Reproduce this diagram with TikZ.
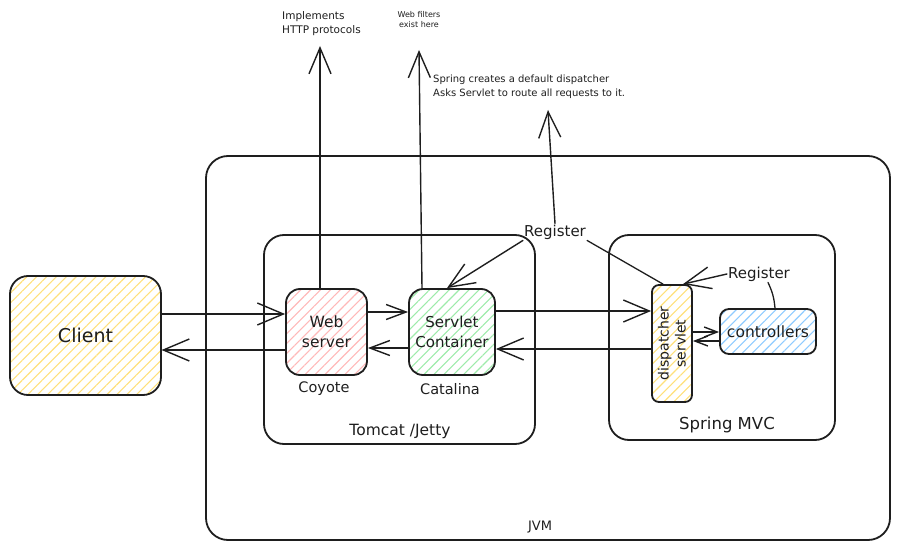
\documentclass[tikz,border=0pt]{standalone}
\usepackage{fontspec}
\setmainfont{DejaVu Sans}
\usetikzlibrary{arrows.meta}
\usetikzlibrary{patterns.meta}

\definecolor{ink}{HTML}{1E1E1E}
\definecolor{hyellow}{HTML}{FFE07A}
\definecolor{hpink}{HTML}{FFB8B8}
\definecolor{hgreen}{HTML}{9EEBAA}
\definecolor{hblue}{HTML}{8FCBFF}

\tikzset{
    box/.style={draw=ink, line width=1.8pt, rounded corners=14pt, inner sep=0pt, align=center, text=ink},
    hatch/.style={pattern={Lines[angle=45,distance=7pt,line width=1.1pt]}, pattern color=#1},
    arr/.style={draw=ink, line width=1.4pt, line cap=round, -{Straight Barb[length=26pt,width=22pt]}},
    marr/.style={draw=ink, line width=1.4pt, line cap=round, -{Straight Barb[length=20pt,width=15pt]}},
    sarr/.style={draw=ink, line width=1.4pt, line cap=round, -{Straight Barb[length=13pt,width=10pt]}},
    link/.style={draw=ink, line width=1.3pt, line cap=round},
    lbl/.style={text=ink, inner sep=1pt},
}

\begin{document}
\begin{tikzpicture}[x=1pt,y=-1pt]
    \useasboundingbox (0,0) rectangle (900,551);

    % containers
    \node[box, rounded corners=22pt, minimum width=684pt, minimum height=384pt] (jvm) at (548,348) {};
    \node[box, rounded corners=20pt, minimum width=271pt, minimum height=209pt] (tomcat) at (399.5,339.5) {};
    \node[box, rounded corners=20pt, minimum width=226pt, minimum height=205pt] (spring) at (722,337.5) {};

    \node[lbl, font=\fontsize{13}{15}\selectfont] (jvmlbl) at (540,527) {JVM};
    \node[lbl, font=\fontsize{15.5}{17}\selectfont] (tomcatlbl) at (400,431) {Tomcat /Jetty};
    \node[lbl, font=\fontsize{16.5}{18}\selectfont] (springlbl) at (727,425) {Spring MVC};

    % components
    \node[box, hatch=hyellow, rounded corners=18pt, minimum width=151pt, minimum height=119pt,
          font=\fontsize{19}{21}\selectfont] (client) at (85.5,335.5) {Client};
    \node[box, hatch=hpink, minimum width=81pt, minimum height=86pt,
          font=\fontsize{15.5}{20}\selectfont] (web) at (326.5,332) {Web\\server};
    \node[box, hatch=hgreen, minimum width=86pt, minimum height=86pt,
          font=\fontsize{15}{20}\selectfont] (servlet) at (452,332) {Servlet\\Container};
    \node[box, hatch=hyellow, rounded corners=7pt, minimum width=40pt, minimum height=117pt] (disp) at (672,343.5) {};
    \node[lbl, rotate=90, align=center, font=\fontsize{14}{17}\selectfont] (disptext) at (disp.center) {dispatcher\\servlet};
    \node[box, hatch=hblue, rounded corners=9pt, minimum width=96pt, minimum height=45pt,
          font=\fontsize{15.5}{17}\selectfont] (ctrl) at (768,331.5) {controllers};

    \node[lbl, font=\fontsize{14.5}{16}\selectfont] (coyote) at (324,389) {Coyote};
    \node[lbl, font=\fontsize{14.5}{16}\selectfont] (catalina) at (450,389) {Catalina};

    % notes
    \node[lbl, anchor=west, align=left, font=\fontsize{10.5}{14}\selectfont] (http) at (281,24) {Implements\\HTTP protocols};
    \node[lbl, align=center, font=\fontsize{8}{10}\selectfont] (filters) at (419,20) {Web filters\\exist here};
    \node[lbl, anchor=west, align=left, font=\fontsize{10}{14}\selectfont] (springnote) at (432,87)
        {Spring creates a default dispatcher\\Asks Servlet to route all requests to it.};
    \node[lbl, font=\fontsize{15}{16}\selectfont] (reg1) at (555,232) {Register};
    \node[lbl, font=\fontsize{15}{16}\selectfont] (reg2) at (759,274) {Register};

    \coordinate (httptip) at (320,46);
    \coordinate (filtertip) at (419,50);
    \coordinate (springtip) at (548,110);

    % request / response
    \draw[arr] ([yshift=21.5pt]client.east) -- ([yshift=21.5pt]client.east -| web.west);
    \draw[arr] ([yshift=-18pt]web.west) -- ([yshift=-18pt]web.west -| client.east);
    \draw[marr] ([yshift=20pt]web.east) -- ([yshift=20pt]web.east -| servlet.west);
    \draw[marr] ([yshift=-16pt]servlet.west) -- ([yshift=-16pt]servlet.west -| web.east);
    \draw[arr] ([yshift=21pt]servlet.east) -- ([yshift=21pt]servlet.east -| disp.west);
    \draw[arr] ([yshift=-17pt]servlet.east -| disp.west) -- ([yshift=-17pt]servlet.east);
    \draw[sarr] ([yshift=11.5pt]disp.east) -- ([yshift=11.5pt]disp.east -| ctrl.west);
    \draw[sarr] ([yshift=-9.5pt]ctrl.west) -- ([yshift=-9.5pt]ctrl.west -| disp.east);

    % notes
    \draw[arr] (web.north -| httptip) -- (httptip);
    \draw[arr] ([xshift=-30pt]servlet.north) -- (filtertip);
    \draw[arr] (reg1.north) -- (springtip);

    % register
    \draw[arr] (reg1.south west) -- ([xshift=-5pt]servlet.north);
    \draw[link] (reg1.south east) -- ([xshift=-9pt]disp.north);
    \draw[arr] (reg2.west) -- ([xshift=11pt]disp.north);
    \draw[link] ([xshift=9pt]reg2.south) to[bend left=10] ([xshift=7pt]ctrl.north);

\end{tikzpicture}
\end{document}
